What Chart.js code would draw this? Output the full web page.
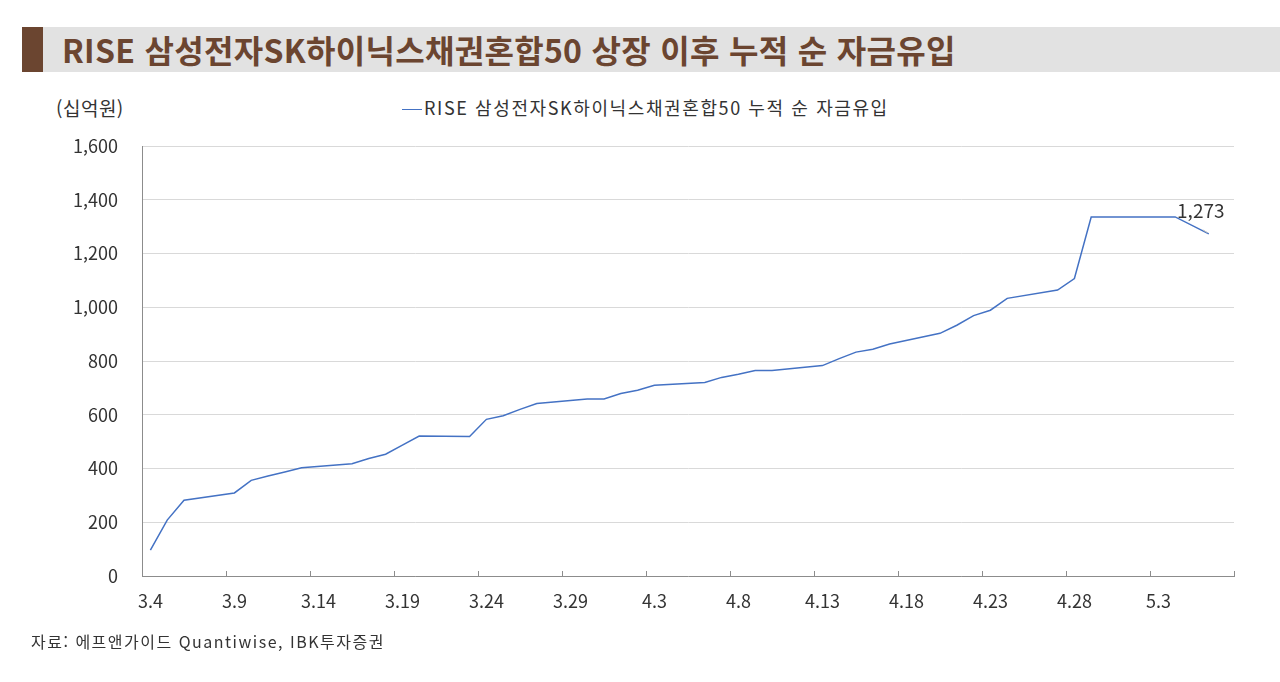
<!DOCTYPE html>
<html lang="ko">
<head>
<meta charset="utf-8">
<script src="https://cdn.jsdelivr.net/npm/chart.js@4.4.1/dist/chart.umd.min.js"></script>
<style>
  html, body { margin: 0; padding: 0; background: #fff; }
  body { width: 1280px; height: 682px; position: relative; overflow: hidden;
         font-family: "Noto Sans CJK KR", "Noto Sans", sans-serif; color: #333; }
  #titleBar { position: absolute; left: 22px; right: 0; top: 27px; height: 45px; background: #e2e2e2; }
  #titleMark { position: absolute; left: 0; top: 0; width: 21px; height: 45px; background: #6b4530; }
  #titleText { position: absolute; left: 40px; top: 0; line-height: 45px; font-size: 32px; font-weight: 700;
               letter-spacing: 0.3px; color: #6b4530; white-space: nowrap; }
  #unit { position: absolute; left: 56px; top: 95px; font-size: 19px; line-height: 26px; letter-spacing: 0.5px; color: #333; }
  #legend { position: absolute; left: 402px; top: 94px; font-size: 18px; line-height: 26px; letter-spacing: 1.6px;
            color: #333; white-space: nowrap; }
  #legend span.swatch { display: inline-block; width: 20px; height: 0; border-top: 1.5px solid #4472c4;
                        vertical-align: middle; margin-right: 2px; position: relative; top: -1px; }
  #source { position: absolute; left: 31px; top: 628px; font-size: 16px; line-height: 26px; letter-spacing: 1.5px;
            color: #333; white-space: nowrap; }
  #chartBox { position: absolute; left: 0; top: 0; width: 1280px; height: 682px; }
</style>
</head>
<body>
<div id="titleBar"><div id="titleMark"></div><div id="titleText">RISE 삼성전자SK하이닉스채권혼합50 상장 이후 누적 순 자금유입</div></div>
<div id="unit">(십억원)</div>
<div id="legend"><span class="swatch"></span>RISE 삼성전자SK하이닉스채권혼합50 누적 순 자금유입</div>
<div id="chartBox"><canvas id="flowChart" width="1280" height="682"></canvas></div>
<div id="source">자료: 에프앤가이드 Quantiwise, IBK투자증권</div>

<script>
// calendar days on the axis (weekends/holidays have no value)
const days = [
    "3.4", "3.5", "3.6", "3.7", "3.8", "3.9", "3.10", "3.11", "3.12", "3.13",
    "3.14", "3.15", "3.16", "3.17", "3.18", "3.19", "3.20", "3.21", "3.22", "3.23",
    "3.24", "3.25", "3.26", "3.27", "3.28", "3.29", "3.30", "3.31",
    "4.1", "4.2", "4.3", "4.4", "4.5", "4.6", "4.7", "4.8", "4.9", "4.10",
    "4.11", "4.12", "4.13", "4.14", "4.15", "4.16", "4.17", "4.18", "4.19", "4.20",
    "4.21", "4.22", "4.23", "4.24", "4.25", "4.26", "4.27", "4.28", "4.29", "4.30",
    "5.1", "5.2", "5.3", "5.4", "5.5", "5.6", "5.7",
];

// cumulative net inflow, 십억원
const netInflow = [
    96, 208, 282, null, null, 309, 356, 372, 387, 403,
    null, null, 418, 437, 453, 487, 521, null, null, 519,
    583, 596, 620, 642, null, null, 659, 659,
    679, 691, 710, null, null, 720, 739, 751, 765, 765,
    null, null, 783, 809, 833, 844, 863, null, null, 903,
    933, 969, 989, 1033, null, null, 1064, 1107, 1336, 1336,
    null, null, null, 1336, null, 1273, null,
];

const tickLabels = ["3.4", "3.9", "3.14", "3.19", "3.24", "3.29", "4.3", "4.8", "4.13", "4.18", "4.23", "4.28", "5.3"];

const seriesName = "RISE 삼성전자SK하이닉스채권혼합50 누적 순 자금유입";

Chart.defaults.font.family = "'Noto Sans CJK KR', 'Noto Sans', sans-serif";
Chart.defaults.color = "#333";

// label on the last value
const lastLabel = {
    id: "lastLabel",
    afterDatasetsDraw(chart) {
        const meta = chart.getDatasetMeta(0);
        let idx = netInflow.length - 1;
        while (idx > 0 && netInflow[idx] == null) idx--;
        const pt = meta.data[idx];
        const ctx = chart.ctx;
        ctx.save();
        ctx.strokeStyle = "#bbb";
        ctx.lineWidth = 1;
        ctx.beginPath();
        ctx.moveTo(pt.x - 6, pt.y - 4);
        ctx.lineTo(pt.x - 1, pt.y - 1);
        ctx.stroke();
        ctx.fillStyle = "#333";
        ctx.font = "19px 'Noto Sans CJK KR', sans-serif";
        ctx.textAlign = "center";
        ctx.textBaseline = "middle";
        ctx.fillText(netInflow[idx].toLocaleString("en-US"), pt.x - 8, pt.y - 23);
        ctx.restore();
    },
};

const axisColor = "#8c8c8c";

new Chart(document.getElementById("flowChart"), {
    type: "line",
    data: {
        labels: days,
        datasets: [
            {
                label: seriesName,
                data: netInflow,
                borderColor: "#4472c4",
                borderWidth: 1.5,
                pointRadius: 0,
                tension: 0,
                spanGaps: true,
            },
        ],
    },
    options: {
        responsive: false,
        animation: false,
        devicePixelRatio: 1,
        layout: { padding: { left: 0, right: 46, top: 146, bottom: 0 } },
        plugins: { legend: { display: false }, tooltip: { enabled: false } },
        scales: {
            x: {
                type: "category",
                offset: true,
                afterFit: (scale) => { scale.height = 106; },
                grid: {
                    offset: true,
                    drawOnChartArea: false,
                    drawTicks: true,
                    tickLength: -5,
                    tickColor: (ctx) => {
                        if (ctx.index === undefined) return axisColor;
                        return tickLabels.includes(days[ctx.index]) ? axisColor : "rgba(0,0,0,0)";
                    },
                },
                border: { color: axisColor, width: 1 },
                ticks: {
                    autoSkip: false,
                    maxRotation: 0,
                    padding: 19,
                    font: { size: 18 },
                    color: "#333",
                    callback: (value, index) => (tickLabels.includes(days[index]) ? days[index] : ""),
                },
            },
            y: {
                min: 0,
                max: 1600,
                afterFit: (scale) => { scale.width = 142; },
                grid: { color: "#d9d9d9", drawTicks: false },
                border: { color: axisColor, width: 1 },
                ticks: {
                    stepSize: 200,
                    padding: 24,
                    font: { size: 18 },
                    color: "#333",
                    callback: (v) => v.toLocaleString("en-US"),
                },
            },
        },
    },
    plugins: [lastLabel],
});
</script>
</body>
</html>
